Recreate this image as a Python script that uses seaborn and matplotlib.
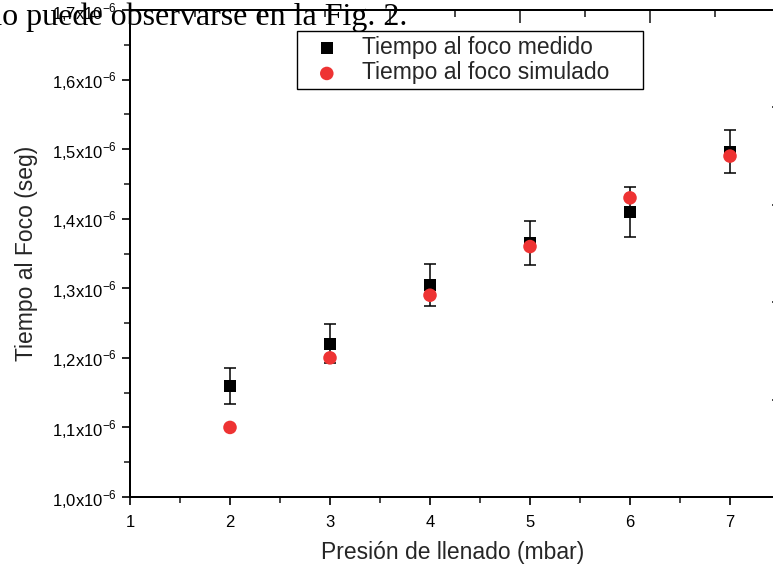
import matplotlib
matplotlib.use("Agg")
import matplotlib.pyplot as plt
import matplotlib.ticker as mticker
import seaborn as sns
import pandas as pd

# Data (times in seconds)
presion = [2, 3, 4, 5, 6, 7]
t_medido = [1.160e-6, 1.220e-6, 1.305e-6, 1.365e-6, 1.410e-6, 1.496e-6]
err_medido = [0.026e-6, 0.028e-6, 0.030e-6, 0.031e-6, 0.036e-6, 0.031e-6]
t_simulado = [1.100e-6, 1.200e-6, 1.290e-6, 1.360e-6, 1.430e-6, 1.490e-6]

df = pd.DataFrame({"presion": presion, "medido": t_medido,
                   "err": err_medido, "simulado": t_simulado})

sns.set_theme(style="ticks")
plt.rcParams["font.family"] = ["Liberation Sans", "DejaVu Sans"]
plt.rcParams["mathtext.fontset"] = "custom"
plt.rcParams["mathtext.rm"] = "Liberation Sans"

fig = plt.figure(figsize=(7.73, 5.68), dpi=100)
ax = fig.add_axes([130 / 773, 71 / 568, 646 / 773, 487 / 568])

# error bars of the measured times
ax.errorbar(df["presion"], df["medido"], yerr=df["err"], fmt="none",
            ecolor="black", elinewidth=1.1, capsize=4, capthick=1.1, zorder=2)

sns.scatterplot(data=df, x="presion", y="medido", marker="s", s=75,
                color="black", edgecolor="none", label="Tiempo al foco medido",
                ax=ax, zorder=3)
sns.scatterplot(data=df, x="presion", y="simulado", marker="o", s=95,
                color="#EE3333", edgecolor="none", label="Tiempo al foco simulado",
                ax=ax, zorder=4)

ax.set_xlim(1, 7.46)
ax.set_ylim(1.0e-6, 1.7e-6)
ax.xaxis.set_major_locator(mticker.MultipleLocator(1))
ax.xaxis.set_minor_locator(mticker.MultipleLocator(0.5))
ax.yaxis.set_major_locator(mticker.MultipleLocator(0.1e-6))
ax.yaxis.set_minor_locator(mticker.MultipleLocator(0.05e-6))


def fmt_y(v, pos):
    return ("%.1f" % (v * 1e6)).replace(".", ",") + r"x10$^{-6}$"


ax.yaxis.set_major_formatter(mticker.FuncFormatter(fmt_y))
ax.tick_params(axis="both", which="major", direction="out", length=6,
               width=1.2, labelsize=12, colors="black")
ax.tick_params(axis="both", which="minor", direction="out", length=4, width=1.2)
ax.tick_params(axis="x", pad=7)

for s in ax.spines.values():
    s.set_linewidth(1.3)
    s.set_color("black")

ax.set_xlabel("Presión de llenado (mbar)", fontsize=16.5, labelpad=8)
ax.set_ylabel("Tiempo al Foco (seg)", fontsize=16.5, labelpad=10)

# top and right axes with their own tick spacing
top = ax.twiny()
top.set_xlim(0, 646 / 130)
top.xaxis.set_major_locator(mticker.MultipleLocator(1))
top.xaxis.set_minor_locator(mticker.MultipleLocator(0.5))
top.tick_params(axis="x", which="major", direction="in", length=9, width=1.2,
                labeltop=False)
top.tick_params(axis="x", which="minor", direction="in", length=5, width=1.2)
right = ax.twinx()
right.set_ylim(0, 5)
right.yaxis.set_major_locator(mticker.MultipleLocator(1))
right.tick_params(axis="y", direction="in", length=3, width=1.2, labelright=False)
for a in (top, right):
    for s in a.spines.values():
        s.set_linewidth(1.3)
        s.set_color("black")

leg = ax.legend(loc="upper left",
                bbox_to_anchor=(167 / 646, 461 / 487, 346 / 646, 0.01),
                mode="expand", fontsize=16.5,
                frameon=True, fancybox=False, edgecolor="black", framealpha=1,
                borderpad=0.2, labelspacing=0.12, handletextpad=0.45,
                handlelength=2.2, borderaxespad=0)
leg.get_frame().set_linewidth(1.0)

# text of the scanned page that overlaps the chart
fig.text(407 / 773, 1 - 25 / 568, "como puede observarse en la Fig. 2.",
         ha="right", va="baseline",
         fontsize=23, family="Liberation Serif", color="black", zorder=10)

fig.savefig("out.png", dpi=100)
